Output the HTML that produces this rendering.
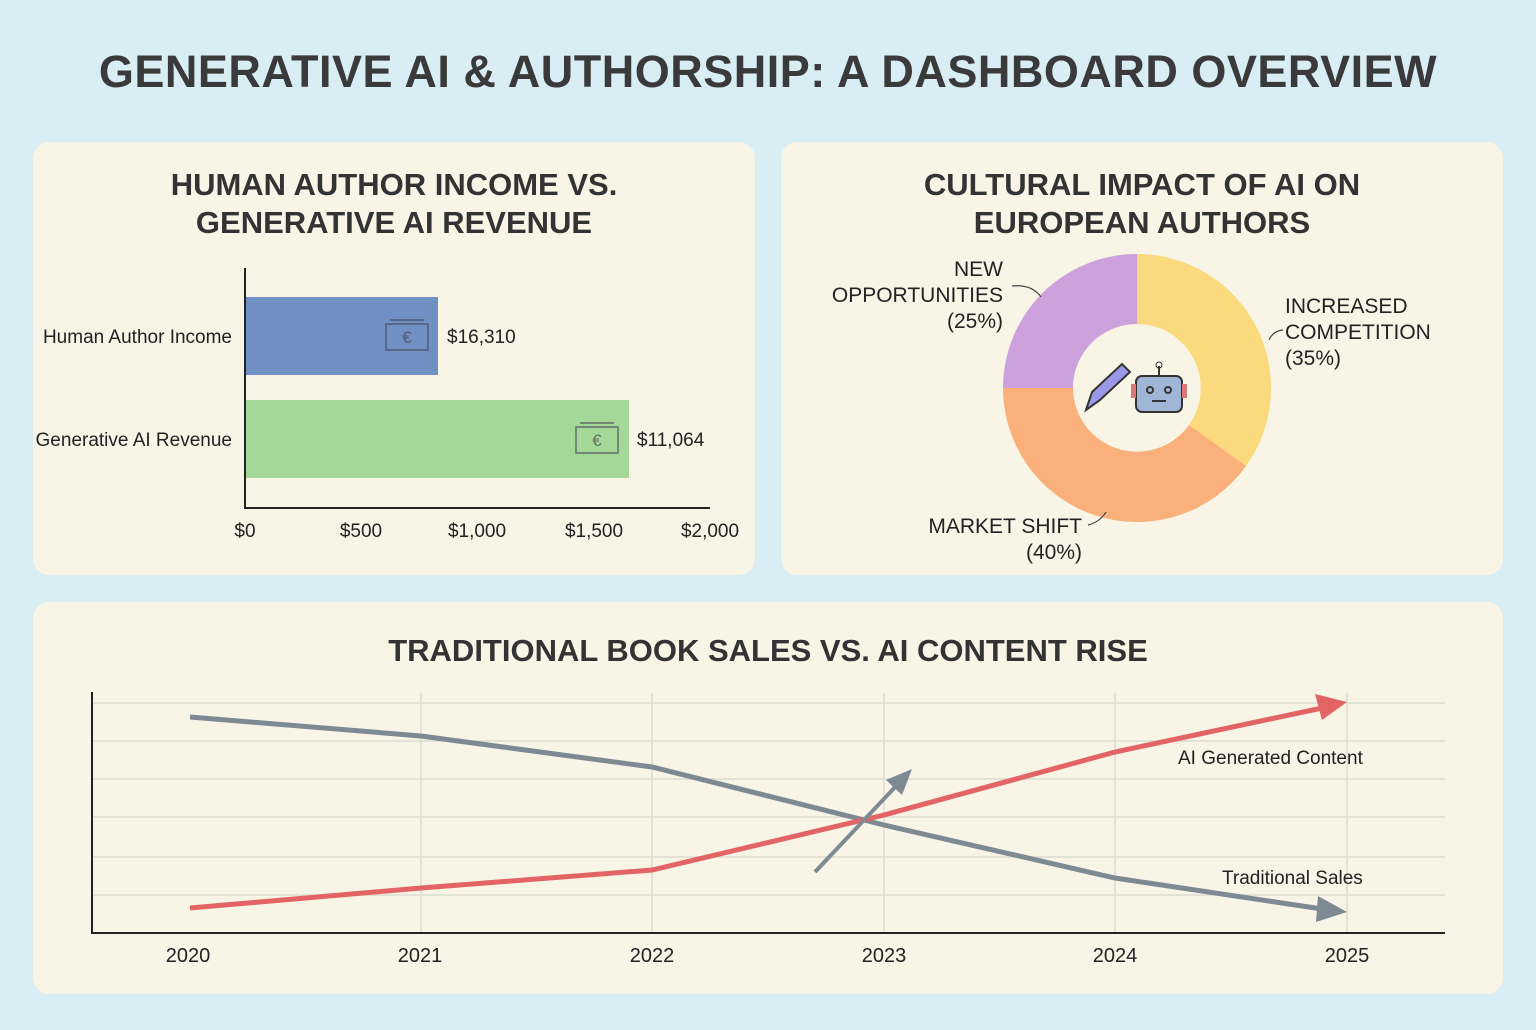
<!DOCTYPE html>
<html><head><meta charset="utf-8"><style>
body{margin:0;width:1536px;height:1030px;background:#d9edf4;font-family:"Liberation Sans",sans-serif;overflow:hidden;position:relative}
.p{position:absolute;background:#f8f4e6;border-radius:16px}
.t{position:absolute;width:100%;text-align:center;font-weight:bold;color:#333;font-size:31px;line-height:38px}
</style></head><body>
<div style="position:absolute;top:46px;width:100%;text-align:center;font-weight:bold;font-size:45px;color:#3a3a3a;letter-spacing:0.5px">GENERATIVE AI &amp; AUTHORSHIP: A DASHBOARD OVERVIEW</div>
<div class="p" style="left:33px;top:142px;width:722px;height:433px"><div class="t" style="top:24px">HUMAN AUTHOR INCOME VS.<br>GENERATIVE AI REVENUE</div></div>
<div class="p" style="left:781px;top:142px;width:722px;height:433px"><div class="t" style="top:24px">CULTURAL IMPACT OF AI ON<br>EUROPEAN AUTHORS</div></div>
<div class="p" style="left:33px;top:602px;width:1470px;height:392px"><div class="t" style="top:30px">TRADITIONAL BOOK SALES VS. AI CONTENT RISE</div></div>
<svg width="1536" height="1030" style="position:absolute;left:0;top:0" font-family="Liberation Sans, sans-serif">
<!-- bar chart -->
<rect x="246" y="297" width="192" height="78" fill="#7090c4"/>
<rect x="246" y="400" width="383" height="78" fill="#a4d898"/>
<line x1="245" y1="268" x2="245" y2="508" stroke="#222" stroke-width="2"/>
<line x1="244" y1="508" x2="710" y2="508" stroke="#222" stroke-width="2"/>
<g font-size="19" fill="#222" text-anchor="end"><text x="232" y="343">Human Author Income</text><text x="232" y="446">Generative AI Revenue</text></g>
<g font-size="19" fill="#222"><text x="447" y="343">$16,310</text><text x="637" y="446">$11,064</text></g>
<g font-size="19" fill="#222" text-anchor="middle"><text x="245" y="537">$0</text><text x="361" y="537">$500</text><text x="477" y="537">$1,000</text><text x="594" y="537">$1,500</text><text x="710" y="537">$2,000</text></g>
<g fill="none" stroke="#445" stroke-width="1.5" opacity="0.7"><rect x="386" y="324" width="42" height="26"/><line x1="390" y1="320" x2="424" y2="320"/><text x="407" y="343" font-size="17" fill="#445" stroke="none" text-anchor="middle">€</text>
<rect x="576" y="427" width="42" height="26"/><line x1="580" y1="423" x2="614" y2="423"/><text x="597" y="446" font-size="17" fill="#445" stroke="none" text-anchor="middle">€</text></g>
<!-- donut -->
<path d="M1137 254 A134 134 0 0 1 1246 466 L1189 425 A64 64 0 0 0 1137 324 Z" fill="#fbd97d"/>
<path d="M1246 466 A134 134 0 0 1 1003 388 L1073 388 A64 64 0 0 0 1189 425 Z" fill="#f9b07a"/>
<path d="M1003 388 A134 134 0 0 1 1137 254 L1137 324 A64 64 0 0 0 1073 388 Z" fill="#cda2dc"/>
<g font-size="21" fill="#222"><text x="1003" y="276" text-anchor="end">NEW</text><text x="1003" y="302" text-anchor="end">OPPORTUNITIES</text><text x="1003" y="328" text-anchor="end">(25%)</text>
<text x="1285" y="313">INCREASED</text><text x="1285" y="339">COMPETITION</text><text x="1285" y="365">(35%)</text>
<text x="1082" y="533" text-anchor="end">MARKET SHIFT</text><text x="1082" y="559" text-anchor="end">(40%)</text></g>
<g fill="none" stroke="#444" stroke-width="1.2"><path d="M1012 286 Q1032 284 1041 297"/><path d="M1283 330 Q1273 331 1269 340"/><path d="M1088 525 Q1100 522 1106 512"/></g>
<g><path d="M1086 410 L1092 392 L1122 364 L1130 372 L1100 400 Z" fill="#9c98e8" stroke="#333" stroke-width="2"/>
<rect x="1136" y="376" width="46" height="36" rx="6" fill="#9fb6d6" stroke="#333" stroke-width="2"/><line x1="1159" y1="376" x2="1159" y2="366" stroke="#333" stroke-width="2"/><circle cx="1159" cy="365" r="3" fill="none" stroke="#333"/>
<circle cx="1150" cy="390" r="3" fill="none" stroke="#333" stroke-width="2"/><circle cx="1168" cy="390" r="3" fill="none" stroke="#333" stroke-width="2"/><line x1="1152" y1="401" x2="1166" y2="401" stroke="#333" stroke-width="2"/>
<rect x="1131" y="384" width="5" height="14" fill="#d77"/><rect x="1182" y="384" width="5" height="14" fill="#d77"/></g>
<!-- line chart -->
<g stroke="#dcdcd0" stroke-width="1.5"><line x1="92" y1="703" x2="1445" y2="703"/><line x1="92" y1="741" x2="1445" y2="741"/><line x1="92" y1="779" x2="1445" y2="779"/><line x1="92" y1="817" x2="1445" y2="817"/><line x1="92" y1="857" x2="1445" y2="857"/><line x1="92" y1="895" x2="1445" y2="895"/>
<line x1="421" y1="693" x2="421" y2="933"/><line x1="652" y1="693" x2="652" y2="933"/><line x1="884" y1="693" x2="884" y2="933"/><line x1="1115" y1="693" x2="1115" y2="933"/><line x1="1347" y1="693" x2="1347" y2="933"/></g>
<line x1="92" y1="692" x2="92" y2="934" stroke="#222" stroke-width="2"/><line x1="91" y1="933" x2="1445" y2="933" stroke="#222" stroke-width="2"/>
<polyline points="190,717 421,736 652,767 884,825 1115,878 1322,909" fill="none" stroke="#7d8a94" stroke-width="5"/>
<polygon points="1347,912 1318,896 1316,922" fill="#7d8a94"/>
<polyline points="190,908 421,888 652,870 884,815 1115,752 1322,708" fill="none" stroke="#e26464" stroke-width="5"/>
<polygon points="1347,702 1315,694 1322,720" fill="#e26464"/>
<line x1="815" y1="872" x2="898" y2="784" stroke="#7d8a94" stroke-width="4"/><polygon points="912,769 886,780 902,795" fill="#7d8a94"/>
<g font-size="19" fill="#222"><text x="1178" y="764">AI Generated Content</text><text x="1222" y="884">Traditional Sales</text></g>
<g font-size="20" fill="#222" text-anchor="middle"><text x="188" y="962">2020</text><text x="420" y="962">2021</text><text x="652" y="962">2022</text><text x="884" y="962">2023</text><text x="1115" y="962">2024</text><text x="1347" y="962">2025</text></g>
</svg>
</body></html>
